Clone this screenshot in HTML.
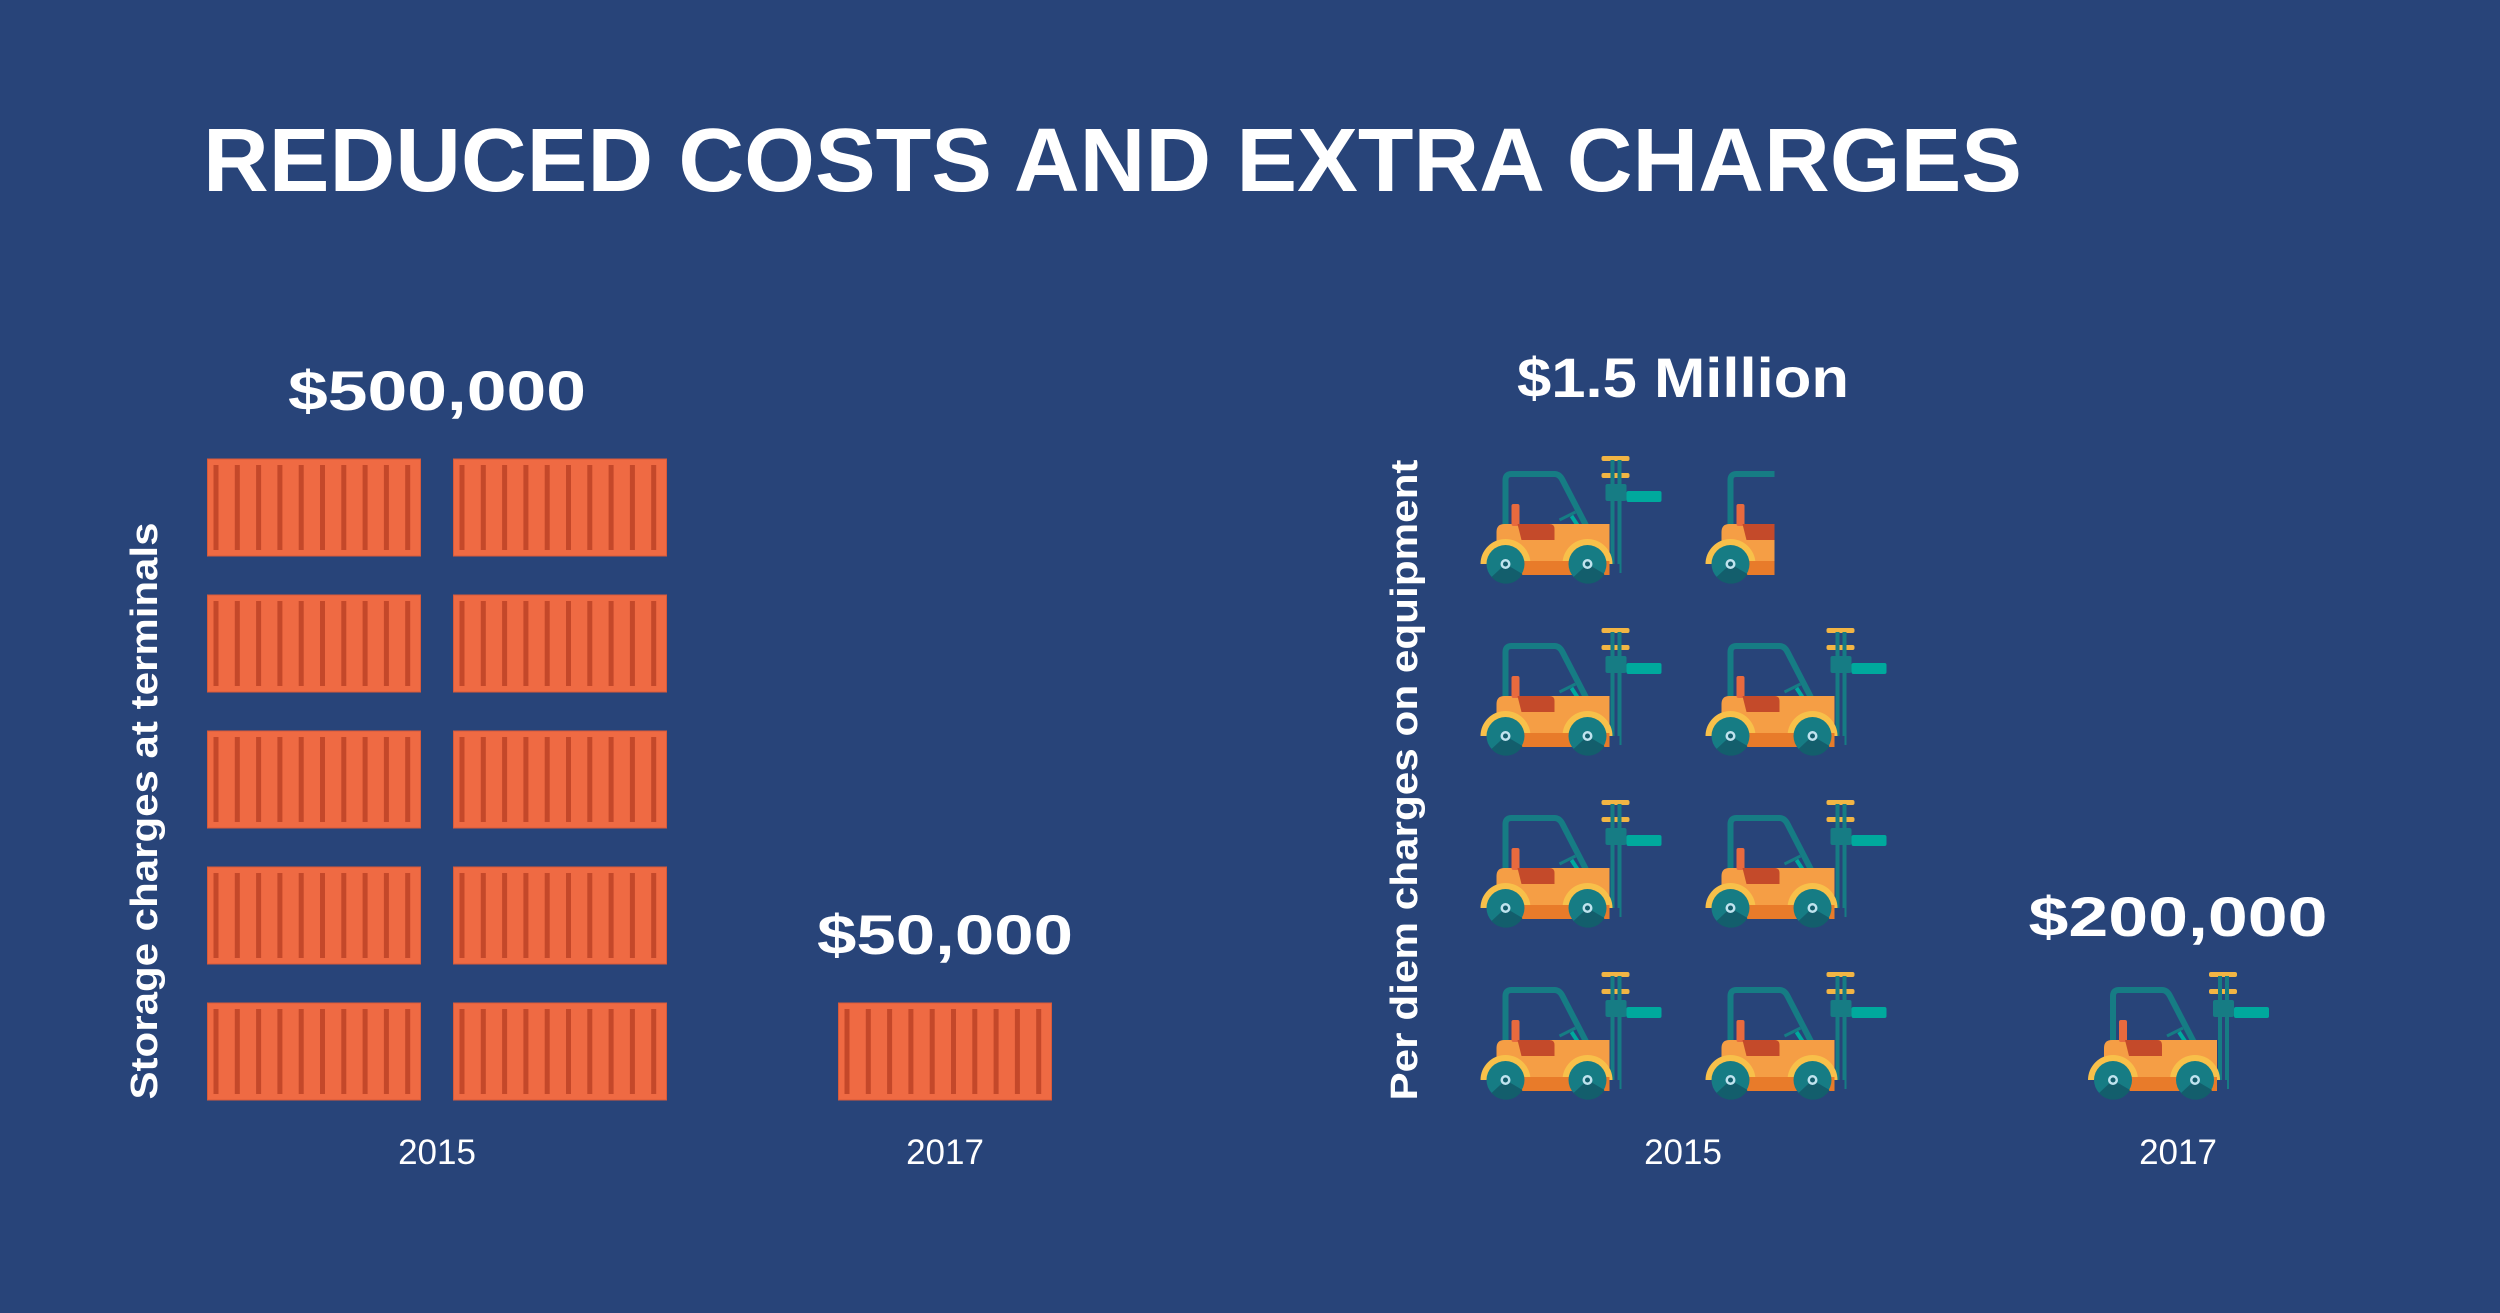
<!DOCTYPE html>
<html><head><meta charset="utf-8"><style>
html,body{margin:0;padding:0;background:#284479;}
svg{display:block;}
text{font-family:"Liberation Sans",sans-serif;fill:#fff;}
</style></head><body>
<svg id="chart" width="2500" height="1313" viewBox="0 0 2500 1313" xmlns="http://www.w3.org/2000/svg">
<rect width="2500" height="1313" fill="#284479"/>
<defs>
<g id="forklift">
 <path d="M26,70 L26,24 Q26,18 32,18 L75,18 Q80,18 83,24 L113,82" fill="none" stroke="#167C84" stroke-width="6"/>
 <rect x="122" y="0" width="28" height="5" rx="2" fill="#F2B544"/>
 <rect x="122" y="17" width="28" height="5" rx="2" fill="#F2B544"/>
 <rect x="131" y="4" width="4" height="113" fill="#167C84"/>
 <rect x="138" y="4" width="4" height="113" fill="#167C84"/>
 <rect x="126" y="28" width="21" height="17" rx="2" fill="#167C84"/>
 <rect x="147" y="35" width="35" height="11" rx="2" fill="#00A99D"/>
 <path d="M75,78 L110,78 L113,84 L75,84 Z" fill="#00A99D"/>
 <line x1="80" y1="64" x2="96" y2="56" stroke="#167C84" stroke-width="3"/>
 <line x1="92" y1="60" x2="105" y2="80" stroke="#00A99D" stroke-width="4"/>
 <path d="M17,76 Q17,68 25,68 L130,68 L130,119 L17,119 Z" fill="#F59E45"/>
 <rect x="17" y="105" width="113" height="14" fill="#E87B2A"/>
 <rect x="32" y="48" width="8" height="22" rx="2" fill="#E86A3E"/>
 <path d="M38,68 L70,68 Q75,68 75,73 L75,84 L42,84 Z" fill="#C44A2A"/>
 <circle cx="26" cy="108" r="25" fill="#F8C04A"/>
 <circle cx="108" cy="108" r="25" fill="#F8C04A"/>
 <rect x="0" y="108" width="140" height="30" fill="#284479"/>
 <rect x="17" y="105" width="113" height="14" fill="#E87B2A"/>
 <circle cx="26" cy="108" r="19" fill="#167C84"/>
 <path d="M12,121 A19,19 0 0 0 43,118 L26,108 Z" fill="#135E6C"/>
 <circle cx="26" cy="108" r="5" fill="#BFE3EE"/><circle cx="26" cy="108" r="2.5" fill="#135E6C"/>
 <circle cx="108" cy="108" r="19" fill="#167C84"/>
 <path d="M94,121 A19,19 0 0 0 125,118 L108,108 Z" fill="#135E6C"/>
 <circle cx="108" cy="108" r="5" fill="#BFE3EE"/><circle cx="108" cy="108" r="2.5" fill="#135E6C"/>
</g>
</defs>
<text x="203" y="191" font-size="90" font-weight="bold" textLength="1819" lengthAdjust="spacingAndGlyphs">REDUCED COSTS AND EXTRA CHARGES</text>
<text transform="translate(157,811) rotate(-90)" text-anchor="middle" font-size="38" font-weight="bold" textLength="577" lengthAdjust="spacingAndGlyphs">Storage charges at terminals</text>
<text transform="translate(1417,780) rotate(-90)" text-anchor="middle" font-size="38" font-weight="bold" textLength="641" lengthAdjust="spacingAndGlyphs">Per diem charges on equipment</text>
<g id="marks"></g>
</svg>
<script>
const storageYears = ["2015", "2017"];
const storageValues = [500000, 50000];
const storageLabels = ["$500,000", "$50,000"];
const perDiemYears = ["2015", "2017"];
const perDiemValues = [1500000, 200000];
const perDiemLabels = ["$1.5 Million", "$200,000"];
const containerUnit = 50000;
const forkliftUnit = 200000;

const storageLabelWidths = [298, 256];
const perDiemLabelWidths = [332, 299];
const NS = "http://www.w3.org/2000/svg";
const marks = document.getElementById('marks');
function mk(tag, attrs, parent) {
  const e = document.createElementNS(NS, tag);
  for (const k in attrs) e.setAttribute(k, attrs[k]);
  (parent || marks).appendChild(e);
  return e;
}
const baseY = 1100;
const sCenters = [437, 945];
const cW = 213, cH = 97, cPitchY = 136, cPitchX = 246;
storageValues.forEach((v, i) => {
  const n = v / containerUnit;
  const cols = n >= 2 ? 2 : 1;
  const left = sCenters[i] - (cols * cW + (cols - 1) * (cPitchX - cW)) / 2;
  let topY = baseY;
  for (let k = 0; k < Math.ceil(n); k++) {
    const r = Math.floor(k / cols), c = k % cols;
    const frac = Math.min(1, n - k);
    const x = left + c * cPitchX, y = baseY - cH - r * cPitchY;
    topY = Math.min(topY, y);
    const g = mk('g', {});
    
    
    mk('rect', {x: x, y: y, width: cW * frac, height: cH, fill: '#EF6A43', stroke: '#D85A3A', 'stroke-width': 1}, g);
    for (let s = 0; s < 10; s++) {
      const sx = x + 6 + s * 21.3;
      if (sx + 5 > x + cW * frac) break;
      mk('rect', {x: sx, y: y + 6, width: 5, height: cH - 12, fill: '#C4482A'}, g);
    }
  }
  const lbl = mk('text', {x: sCenters[i], y: topY - 49, 'text-anchor': 'middle', 'font-size': 56, 'font-weight': 'bold', textLength: storageLabelWidths[i], lengthAdjust: 'spacingAndGlyphs'});
  
  
  lbl.textContent = storageLabels[i];
  const yr = mk('text', {x: sCenters[i], y: 1164, 'text-anchor': 'middle', 'font-size': 35});
  
  
  yr.textContent = storageYears[i];
});
const pCenters = [1683, 2178];
const fW = 182, fH = 128, fPitchY = 172, fPitchX = 225, fUnitW = 140;
perDiemValues.forEach((v, i) => {
  const n = v / forkliftUnit;
  const cols = n >= 2 ? 2 : 1;
  const left = pCenters[i] - (cols * fW + (cols - 1) * (fPitchX - fW)) / 2;
  let topY = baseY;
  for (let k = 0; k < Math.ceil(n); k++) {
    const r = Math.floor(k / cols), c = k % cols;
    const frac = Math.min(1, n - k);
    const x = left + c * fPitchX, y = baseY - fH - r * fPitchY;
    topY = Math.min(topY, y);
    const g = mk('g', {});
    
    
    if (frac < 1) {
      const cp = mk('clipPath', {id: 'clip' + i + '_' + k});
      mk('rect', {x: x, y: y - 5, width: fUnitW * frac, height: fH + 20}, cp);
      g.setAttribute('clip-path', 'url(#clip' + i + '_' + k + ')');
    }
    mk('use', {href: '#forklift', x: x, y: y}, g);
  }
  const lbl = mk('text', {x: pCenters[i], y: topY - (i === 0 ? 59 : 36), 'text-anchor': 'middle', 'font-size': 56, 'font-weight': 'bold', textLength: perDiemLabelWidths[i], lengthAdjust: 'spacingAndGlyphs'});
  
  
  lbl.textContent = perDiemLabels[i];
  const yr = mk('text', {x: pCenters[i], y: 1164, 'text-anchor': 'middle', 'font-size': 35});
  
  
  yr.textContent = perDiemYears[i];
});
</script>
</body></html>
